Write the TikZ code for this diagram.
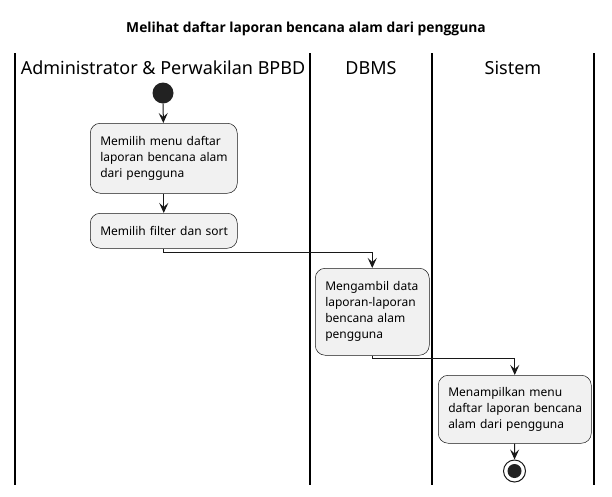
\documentclass[tikz,border=0pt]{standalone}
\usepackage{fontspec}
\setmainfont{Noto Sans}
\newfontfamily\titlefont{Open Sans}
\usetikzlibrary{arrows.meta}
\definecolor{boxfill}{HTML}{F1F1F1}
\definecolor{boxline}{HTML}{181818}
\definecolor{dotfill}{HTML}{222222}
\newcommand\ml[1]{\makebox[0pt][l]{#1}}
\tikzset{
  actbox/.style={draw=boxline, fill=boxfill, line width=0.5pt, rounded corners=10pt,
    anchor=north west, align=left, inner xsep=10pt, inner ysep=0pt,
    font=\fontsize{12}{16}\selectfont},
  arr/.style={draw=boxline, line width=1pt, -{Stealth[length=10pt,width=9pt,inset=4pt]}},
  lane/.style={draw=black, line width=1.5pt},
  hdr/.style={font=\fontsize{18}{20}\selectfont},
}
\begin{document}
\begin{tikzpicture}[x=1pt,y=-1pt]
\useasboundingbox (0,0) rectangle (612,496);
\fill[white] (0,0) rectangle (612,496);
\node[font=\titlefont\bfseries\fontsize{13.8}{16}\selectfont] (title) at (306,29) {Melihat daftar laporan bencana alam dari pengguna};
% lanes
\draw[lane] (15,53) -- (15,485);
\draw[lane] (310,53) -- (310,485);
\draw[lane] (432,53) -- (432,485);
\draw[lane] (594,53) -- (594,485);
\node[hdr] (h1) at (163,68) {Administrator \& Perwakilan BPBD};
\node[hdr] (h2) at (371,68) {DBMS};
\node[hdr] (h3) at (513,68) {Sistem};
% nodes
\node[circle, fill=dotfill, minimum size=21pt, inner sep=0pt] (start) at (163,93) {};
\node[actbox, minimum width=147pt, minimum height=70pt, text width=127pt] (b1) at (90,123) {\ml{Memilih menu daftar}\\\ml{laporan bencana alam}\\\ml{dari pengguna}};
\node[actbox, minimum width=147pt, minimum height=35pt, text width=127pt] (b2) at (90,213) {\ml{Memilih filter dan sort}};
\node[actbox, minimum width=114pt, minimum height=87pt, text width=94pt] (b3) at (315,268) {\ml{Mengambil data}\\\ml{laporan-laporan}\\\ml{bencana alam}\\\ml{pengguna}};
\node[actbox, minimum width=153pt, minimum height=68pt, text width=133pt] (b4) at (438,375) {\ml{Menampilkan menu}\\\ml{daftar laporan bencana}\\\ml{alam dari pengguna}};
\node[circle, draw=boxline, line width=1pt, fill=white, minimum size=22pt, inner sep=0pt] (end) at (514.5,471) {};
\node[circle, fill=dotfill, minimum size=14pt, inner sep=0pt] (endin) at (end) {};
% connectors
\draw[arr] (start) -- (b1);
\draw[arr] (b1) -- (b2);
\draw[arr] (b2.south) -- ++(0,4) -| (b3.north);
\draw[arr] (b3.south) -- ++(0,3) -| (b4.north);
\draw[arr] (b4) -- (end);
\end{tikzpicture}
\end{document}
